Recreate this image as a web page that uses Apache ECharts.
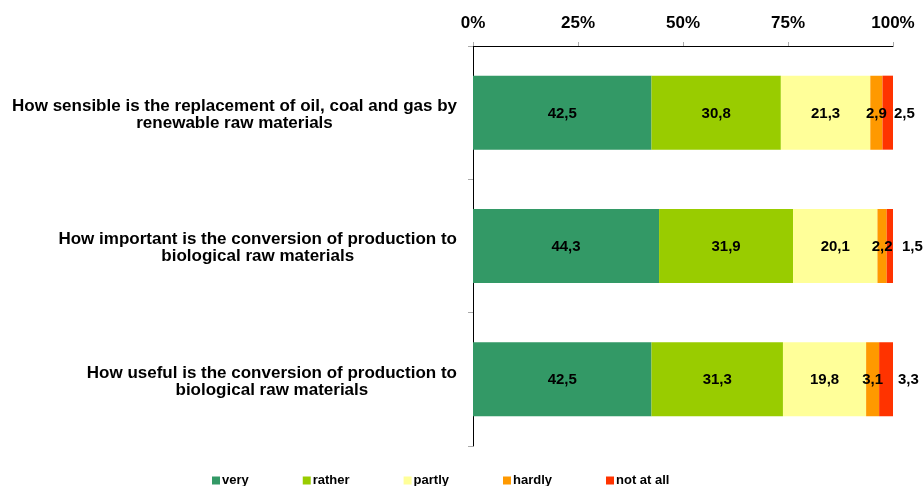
<!DOCTYPE html>
<html><head><meta charset="utf-8">
<script src="https://cdn.jsdelivr.net/npm/echarts@6/dist/echarts.min.js"></script>
<style>html,body{margin:0;padding:0;background:#fff}#c{width:924px;height:486px}</style>
</head><body><div id="c"></div>
<script>
const categories = [
  ["How sensible is the replacement of oil, coal and gas by", "renewable raw materials"],
  ["How important is the conversion of production to", "biological raw materials"],
  ["How useful is the conversion of production to", "biological raw materials"]
];
const seriesNames = ["very", "rather", "partly", "hardly", "not at all"];
const very = [42.5, 44.3, 42.5];
const rather = [30.8, 31.9, 31.3];
const partly = [21.3, 20.1, 19.8];
const hardly = [2.9, 2.2, 3.1];
const notAtAll = [2.5, 1.5, 3.3];
const tickValues = [0, 25, 50, 75, 100];
const colors = ["#339966", "#99CC00", "#FFFF99", "#FF9900", "#FF3300"];

const font = "'Liberation Sans', Arial, Helvetica, sans-serif";
const values = [very, rather, partly, hardly, notAtAll];
const fmt = p => p.value.toFixed(1).replace('.', ',');
// horizontal nudges of the outside "not at all" labels, as placed in the reference
const outsideNudge = [0, 8, 4];

const series = values.map((v, i) => ({
  name: seriesNames[i],
  type: 'bar',
  stack: 'total',
  barWidth: 74,
  data: i === 4 ? v.map((x, j) => ({ value: x, label: { offset: [outsideNudge[j], 1] } })) : v,
  itemStyle: { color: colors[i] },
  label: {
    show: true,
    position: i === 4 ? 'right' : 'inside',
    distance: 1,
    offset: [0, 1],
    formatter: fmt,
    color: '#000',
    fontWeight: 'bold',
    fontSize: 15,
    fontFamily: font
  }
}));

const chart = echarts.init(document.getElementById('c'), null, { renderer: 'canvas' });
chart.setOption({
  animation: false,
  color: colors,
  grid: { left: 473, right: 31, top: 46, bottom: 40 },
  legend: {
    bottom: -6,
    left: 207,
    itemWidth: 8,
    itemHeight: 8,
    itemGap: 54,
    icon: 'rect',
    data: seriesNames,
    textStyle: { fontFamily: font, fontWeight: 'bold', fontSize: 13, color: '#000', padding: [0, 0, 0, -3] }
  },
  xAxis: {
    type: 'value',
    position: 'top',
    min: 0,
    max: 100,
    interval: 25,
    axisLine: { show: true, lineStyle: { color: '#000', width: 1 } },
    axisTick: { show: true, length: 4, lineStyle: { color: '#aaa' } },
    splitLine: { show: false },
    axisLabel: {
      formatter: v => tickValues.includes(v) ? v + '%' : '',
      fontFamily: font, fontWeight: 'bold', fontSize: 17, color: '#000', margin: 14
    }
  },
  yAxis: {
    type: 'category',
    inverse: true,
    data: categories.map(c => c.join('\n')),
    axisLine: { show: true, lineStyle: { color: '#000', width: 1 } },
    axisTick: { show: true, length: 5, lineStyle: { color: '#aaa' } },
    axisLabel: {
      margin: 16,
      align: 'right',
      padding: [4, 0, 0, 0],
      formatter: (v, i) => categories[i].map(l => '{c|' + l + '}').join('\n'),
      rich: {
        c: { align: 'center', fontFamily: font, fontWeight: 'bold', fontSize: 17, color: '#000', lineHeight: 17 }
      }
    }
  },
  series: series
});
</script>
</body></html>
